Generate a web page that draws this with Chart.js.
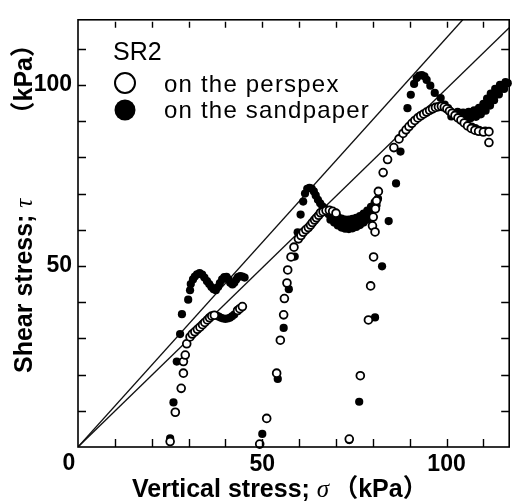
<!DOCTYPE html>
<html><head><meta charset="utf-8">
<script src="https://cdn.jsdelivr.net/npm/chart.js@4/dist/chart.umd.min.js"></script>
<style>html,body{margin:0;padding:0;background:#fff;}canvas{display:block;}</style>
</head><body>
<canvas id="c" width="515" height="502"></canvas>
<script>
// ---- axis data ----
const xRange = [0, 117];
const yRange = [0, 118];
const labelledTicks = [50, 100];
const minorStep = 10;
// ---- failure envelopes (two straight lines through the origin) ----
const upperLine = [[0, 0], [104.4, 118]];
const lowerLine = [[0, 0], [117, 115.8]];
// ---- SR2 on the perspex (open circles) ----
const perspex1 = [[25.0,1.5],[26.4,9.6],[28.0,16.2],[28.6,20.4],[28.6,23.6],[29.1,25.4],[29.5,28.5],[30.4,30.4],[31.0,31.2],[31.7,31.8],[32.4,32.5],[33.1,33.1],[33.8,33.8],[34.4,34.4],[35.1,35.1],[35.7,35.7],[36.3,36.2],[37.0,36.4],[43.3,37.7],[43.9,38.2],[44.6,38.8]];
const perspex2 = [[49.3,0.8],[51.2,7.9],[53.9,20.4],[54.9,29.5],[55.8,36.5],[56.0,41.0],[56.7,45.3],[56.9,48.9],[57.8,52.5],[58.6,55.2],[59.8,57.5],[60.5,58.4],[61.1,59.3],[61.8,60.0],[62.5,60.6],[63.1,61.3],[63.6,62.0],[64.2,62.7],[64.7,63.3],[65.3,64.0],[65.8,64.7],[66.5,65.0],[67.3,65.3],[68.2,65.4],[69.1,65.1],[70.0,64.6],[81.5,70.6],[81.0,68.0],[80.7,65.8],[80.1,63.5],[79.9,61.1],[80.6,59.4],[80.2,52.5],[79.4,44.5],[78.8,35.1],[76.6,19.7],[73.6,2.2]];
const perspex3 = [[82.8,75.8],[84.0,79.4],[85.7,82.7],[87.1,85.1],[88.2,86.6],[89.0,87.6],[89.8,88.5],[90.6,89.4],[91.4,90.2],[92.2,90.9],[93.0,91.5],[93.8,92.0],[94.6,92.5],[95.4,93.0],[96.2,93.4],[97.0,93.8],[97.8,94.0],[98.6,94.1],[99.4,93.9],[100.1,93.4],[100.8,92.8],[101.5,92.2],[102.3,91.6],[103.1,90.9],[103.9,90.3],[104.8,89.5],[105.7,88.7],[106.7,88.0],[107.7,87.5],[108.7,87.2],[110.0,87.0],[111.5,87.1],[111.5,84.1]];
// ---- SR2 on the sandpaper (filled circles) ----
const sandpaper1 = [[25.0,2.4],[25.9,12.3],[26.8,23.6],[27.7,31.2],[28.2,36.7],[29.9,40.7],[30.4,43.3],[30.6,45.0],[31.2,46.3],[31.7,47.1],[32.3,47.7],[33.0,48.0],[33.7,47.6],[34.3,46.8],[35.0,45.8],[35.6,45.0],[36.2,44.2],[36.8,43.6],[37.4,43.3],[38.0,44.2],[38.5,45.3],[39.1,46.3],[39.7,46.9],[40.3,47.0],[40.8,46.3],[41.3,45.4],[41.9,44.9],[42.4,45.4],[42.9,46.2],[43.4,46.9],[44.0,47.2],[44.6,47.1],[45.2,46.8],
  [37.6,36.3],[38.2,36.0],[38.8,35.7],[39.4,35.5],[40.0,35.4],[40.6,35.5],[41.2,35.7],[41.8,36.1],[42.4,36.6]];
const sandpaper2 = [[50.0,3.6],[54.2,18.8],[55.8,32.9],[57.2,43.6],[58.8,52.6],[59.6,59.3],[60.4,64.2],[61.1,67.8],[61.6,70.0],[62.2,71.3],[62.8,71.6],[63.4,71.4],[64.0,70.6],[64.5,69.5],[65.1,68.3],[65.7,67.3],[66.3,66.5],[66.9,65.9],
  [67.5,65.3],[68.0,64.3],[69.0,63.3],[70.0,62.4],[71.0,61.8],[72.0,61.4],[73.0,61.2],[74.0,61.2],[75.0,61.4],[76.0,61.8],[77.0,62.4],[78.0,63.2],[79.0,64.2],[80.0,65.4],[81.0,66.8],[81.4,68.6],
  [68.5,62.8],[69.5,62.0],[70.5,61.2],[71.5,60.6],[72.5,60.3],[73.5,60.2],[74.5,60.4],[75.5,60.8],[76.5,61.3],[77.5,62.0],[78.5,62.8],
  [68.5,65.0],[69.5,64.3],[70.5,63.6],[71.5,63.1],[72.5,62.8],[73.5,62.8],[74.5,63.0],[75.5,63.3],[76.5,63.8],[77.5,64.5],[78.5,65.3],[79.5,66.3],[80.5,67.6],
  [84.3,62.4],[82.5,49.9],[80.6,35.8],[76.3,12.5],[73.6,1.9]];
const sandpaper3 = [[86.3,72.8],[87.5,81.6],[89.4,93.6],[90.3,97.3],[91.2,100.3],[91.9,101.9],[92.6,102.6],[93.3,102.7],[94.0,102.4],[94.6,101.4],[95.6,99.8],[96.8,97.8],[98.4,96.4],[99.5,94.6],[100.4,93.6],
  [101.0,92.8],[101.8,92.2],[102.6,91.8],[103.4,91.6],[104.2,91.5],[105.0,91.5],[105.8,91.6],[106.6,91.8],[107.4,92.0],[108.2,92.4],[109.0,92.9],[109.7,93.5],[110.4,94.2],[111.0,95.0],[111.6,95.9],[112.2,96.8],[112.8,97.6],[113.5,98.4],[114.2,99.1],[115.0,99.7],[115.8,100.2],[116.6,100.5],
  [103.0,92.6],[104.5,92.4],[106.0,92.6],[107.5,93.0],[108.8,93.7],[110.0,94.8],[111.0,96.2],[112.0,97.6],[113.2,98.9],[114.5,100.0],[116.0,100.8],
  [103.5,90.8],[105.0,90.6],[106.5,90.8],[108.0,91.2],[109.3,91.9],[110.6,92.9],[111.8,94.3],[112.9,95.8],[114.2,97.4],[115.6,98.9],
  [101.3,91.3],[106.8,88.5],[107.8,88.1],[108.8,87.6],[109.8,87.1],[110.5,87.4]];
const legendTitle = 'SR2';
const seriesNames = ['on the perspex', 'on the sandpaper'];
const xTitle = ['Vertical stress; ', 'σ', '（kPa）'];
const yTitle = ['Shear stress; ', 'τ', '（kPa）'];

const toPts = a => a.map(p => ({x: p[0], y: p[1]}));
const perspex = [].concat(perspex1, perspex2, perspex3);
const sandpaper = [].concat(sandpaper1, sandpaper2, sandpaper3);

const SANS = '"Liberation Sans", Arial, sans-serif';
const CJK = '"Liberation Sans", "Noto Sans CJK JP", sans-serif';

const decor = {
  id: 'decor',
  afterDraw(chart) {
    const ctx = chart.ctx, a = chart.chartArea;
    const xs = chart.scales.x, ys = chart.scales.y;
    ctx.save();
    ctx.strokeStyle = '#000';
    ctx.lineWidth = 1.6;
    ctx.strokeRect(a.left, a.top, a.right - a.left, a.bottom - a.top);
    ctx.lineWidth = 1.4;
    ctx.beginPath();
    for (let v = minorStep; v < xRange[1]; v += minorStep) {
      const px = Math.round(xs.getPixelForValue(v)) + 0.5;
      ctx.moveTo(px, a.bottom); ctx.lineTo(px, a.bottom - 8);
      ctx.moveTo(px, a.top + 2); ctx.lineTo(px, a.top + 8);
    }
    for (let v = minorStep; v < yRange[1]; v += minorStep) {
      const py = Math.round(ys.getPixelForValue(v)) + 0.5;
      ctx.moveTo(a.left, py); ctx.lineTo(a.left + 8, py);
      ctx.moveTo(a.right, py); ctx.lineTo(a.right - 8, py);
    }
    ctx.stroke();
    // shared origin label
    ctx.fillStyle = '#000';
    ctx.font = 'bold 23px ' + SANS;
    ctx.textAlign = 'center';
    ctx.textBaseline = 'alphabetic';
    ctx.fillText('0', a.left - 9, a.bottom + 23);
    // legend
    ctx.textAlign = 'left';
    ctx.font = '25px ' + SANS;
    ctx.fillText(legendTitle, a.left + 35, 60);
    ctx.font = '24px ' + SANS;
    ctx.letterSpacing = '1.2px';
    ctx.fillText(seriesNames[0], a.left + 86, 92);
    ctx.fillText(seriesNames[1], a.left + 86, 118);
    ctx.letterSpacing = '0px';
    ctx.lineWidth = 2;
    ctx.beginPath(); ctx.arc(a.left + 47, 83, 10, 0, Math.PI * 2); ctx.stroke();
    ctx.beginPath(); ctx.arc(a.left + 47, 110, 10.5, 0, Math.PI * 2); ctx.fill();
    // x title
    let x = 132; const yb = 497;
    ctx.font = 'bold 25px ' + SANS; ctx.fillText(xTitle[0], x, yb); x += ctx.measureText(xTitle[0]).width;
    ctx.font = 'italic 25px "Liberation Serif", serif'; ctx.fillText(xTitle[1], x, yb); x += ctx.measureText(xTitle[1]).width + 4;
    ctx.font = 'bold 25px ' + CJK; ctx.fillText(xTitle[2], x, yb);
    // y title (rotated)
    ctx.save();
    ctx.translate(32, 373);
    ctx.rotate(-Math.PI / 2);
    let t = 0;
    ctx.font = 'bold 25px ' + SANS; ctx.fillText(yTitle[0], t, 0); t += ctx.measureText(yTitle[0]).width;
    ctx.font = 'italic 25px "Liberation Serif", serif'; ctx.fillText(yTitle[1], t, 0);
    ctx.font = 'bold 25px ' + CJK; ctx.textAlign = 'right'; ctx.fillText(yTitle[2], 373 - 32, 0);
    ctx.restore();
    ctx.restore();
  }
};

new Chart(document.getElementById('c'), {
  type: 'scatter',
  data: {
    datasets: [
      {label: seriesNames[0], data: toPts(perspex), pointRadius: 3.9, pointBorderWidth: 1.8,
       pointBackgroundColor: '#fff', pointBorderColor: '#000', showLine: false, clip: false},
      {label: seriesNames[1], data: toPts(sandpaper), pointRadius: 4.1, pointBorderWidth: 0,
       pointBackgroundColor: '#000', pointBorderColor: '#000', showLine: false, clip: false},
      {label: 'upper', data: toPts(upperLine), showLine: true, pointRadius: 0, borderColor: '#111', borderWidth: 1.3},
      {label: 'lower', data: toPts(lowerLine), showLine: true, pointRadius: 0, borderColor: '#111', borderWidth: 1.3}
    ]
  },
  options: {
    responsive: false,
    animation: false,
    devicePixelRatio: 1,
    layout: {padding: {top: 12, right: 1, left: 0, bottom: 0}},
    plugins: {legend: {display: false}, tooltip: {enabled: false}},
    scales: {
      x: {
        type: 'linear', min: xRange[0], max: xRange[1],
        grid: {display: false, drawTicks: false}, border: {display: false},
        ticks: {stepSize: 50, maxRotation: 0, autoSkip: false, padding: 4, color: '#000',
                font: {family: SANS, size: 23, weight: 'bold'},
                callback: v => labelledTicks.includes(v) ? String(v) : ''},
        afterFit: s => { s.height = 55; }
      },
      y: {
        type: 'linear', min: yRange[0], max: yRange[1],
        grid: {display: false, drawTicks: false}, border: {display: false},
        ticks: {stepSize: 50, autoSkip: false, padding: 6, color: '#000',
                font: {family: SANS, size: 23, weight: 'bold'},
                callback: v => labelledTicks.includes(v) ? String(v) : ''},
        afterFit: s => { s.width = 78; }
      }
    }
  },
  plugins: [decor]
});
</script>
</body></html>
